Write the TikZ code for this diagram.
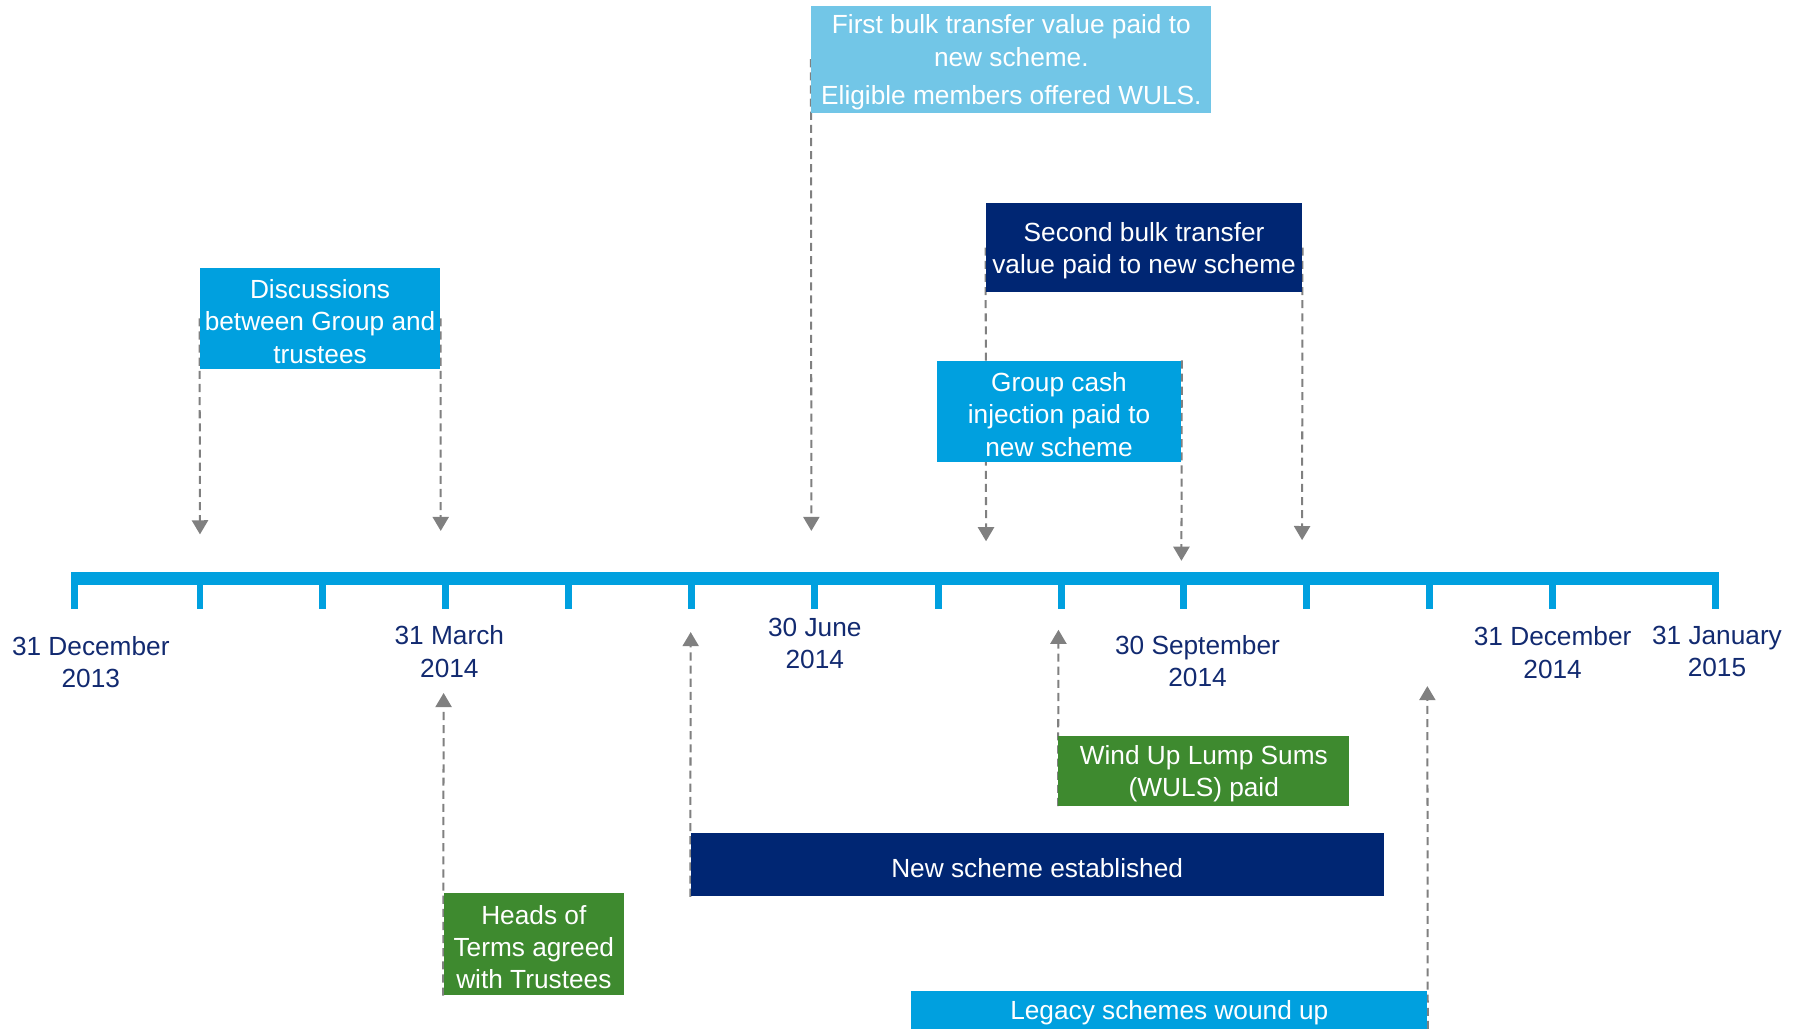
\documentclass[tikz,border=0pt]{standalone}
\usepackage{fontspec}
\setmainfont{Liberation Sans}
\usetikzlibrary{arrows.meta,backgrounds}
\definecolor{lightblue}{RGB}{114,198,231}
\definecolor{midblue}{RGB}{0,160,223}
\definecolor{navyblue}{RGB}{0,38,115}
\definecolor{datenavy}{RGB}{18,42,112}
\definecolor{boxgreen}{RGB}{62,138,47}
\definecolor{arrowgray}{RGB}{128,128,128}
\newcommand\boxstrut{\rule{0pt}{12.5pt}}
\tikzset{
  box/.style 2 args={rectangle, inner sep=0pt, align=center, text=white,
    minimum width=#1*0.02cm, minimum height=#2*0.02cm,
    font=\fontsize{13}{16}\selectfont},
  datelabel/.style={align=center, text=datenavy, inner sep=0pt,
    font=\fontsize{13}{16}\selectfont},
  dasharrow/.style={draw=arrowgray, line width=1pt, dash pattern=on 4pt off 2.5pt,
    -{Triangle[width=8pt,length=7pt]}}
}
\begin{document}
\begin{tikzpicture}[x=0.02cm, y=-0.02cm]
            \useasboundingbox (0,0) rectangle (1568,901);

            \fill[midblue] (62,498) rectangle (1496,509);
            \foreach \tx in {65,174,281,388,495,602,709,817,924,1030,1137,1244,1351,1493}
                \fill[midblue] (\tx-3,508) rectangle (\tx+3,530);

            \node[datelabel] (dec13) at (79,576) {31 December\\2013};
            \node[datelabel] (mar14) at (391,567) {31 March\\2014};
            \node[datelabel] (jun14) at (709,560) {30 June\\2014};
            \node[datelabel] (sep14) at (1042,575) {30 September\\2014};
            \node[datelabel] (dec14) at (1351,568) {31 December\\2014};
            \node[datelabel] (jan15) at (1494,567) {31 January\\2015};

            \node[box={348}{93}, fill=lightblue] (first) at (880,51.5)
                {\boxstrut First bulk transfer value paid to\\new scheme.\\[3pt]Eligible members offered WULS.};
            \node[box={209}{88}, fill=midblue] (disc) at (278.5,277)
                {\boxstrut Discussions\\between Group and\\trustees};
            \node[box={275}{77}, fill=navyblue] (second) at (995.5,215.5)
                {\boxstrut Second bulk transfer\\value paid to new scheme};
            \node[box={213}{88}, fill=midblue] (cash) at (921.5,358)
                {\boxstrut Group cash\\injection paid to\\new scheme};
            \node[box={253}{61}, fill=boxgreen] (wuls) at (1047.5,670.5)
                {\boxstrut Wind Up Lump Sums\\(WULS) paid};
            \node[box={603}{55}, fill=navyblue] (newsch) at (902.5,752.5)
                {\boxstrut New scheme established};
            \node[box={157}{89}, fill=boxgreen] (heads) at (464.5,821.5)
                {\boxstrut Heads of\\Terms agreed\\with Trustees};
            \node[box={449}{33}, fill=midblue] (legacy) at (1017.5,878.5)
                {\boxstrut Legacy schemes wound up};

            \coordinate (p1) at (174,465);
            \coordinate (p2) at (383.5,462);
            \coordinate (p3) at (706,462);
            \coordinate (p4) at (858,471);
            \coordinate (p5) at (1133,470);
            \coordinate (p6) at (1028,488);
            \coordinate (p7) at (386,603);
            \coordinate (p8) at (601,550);
            \coordinate (p9) at (921,548);
            \coordinate (p10) at (1242,597);

            \begin{scope}[on background layer]
                \draw[dasharrow] (disc.west) -- (p1);
                \draw[dasharrow] (disc.east) -- (p2);
                \draw[dasharrow] (first.west) -- (p3);
                \draw[dasharrow] (second.west) -- (p4);
                \draw[dasharrow] (second.east) -- (p5);
                \draw[dasharrow] (cash.north east) -- (p6);
                \draw[dasharrow] (heads.south west) -- (p7);
                \draw[dasharrow] (newsch.south west) -- (p8);
                \draw[dasharrow] (wuls.south west) -- (p9);
                \draw[dasharrow] (legacy.south east) -- (p10);
            \end{scope}
        \end{tikzpicture}
\end{document}
